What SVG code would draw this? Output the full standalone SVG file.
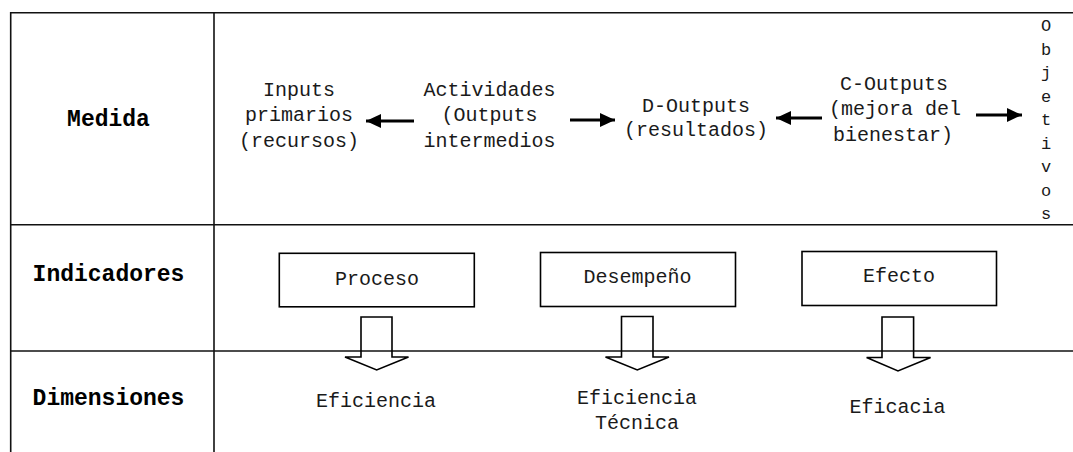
<svg xmlns="http://www.w3.org/2000/svg" width="1073" height="452" viewBox="0 0 1073 452">
<style>
  .grid { stroke: #111; stroke-width: 1.6; fill: none; }
  .lbl { font-family: "Liberation Mono", "Courier New", monospace; font-weight: bold; font-size: 23px; fill: #000; text-anchor: middle; }
  .txt { font-family: "Liberation Mono", "Courier New", monospace; font-size: 20px; fill: #1a1a1a; text-anchor: middle; }
  .vtxt { font-family: "Liberation Mono", "Courier New", monospace; font-size: 17px; fill: #1a1a1a; text-anchor: middle; }
  .box { fill: #fff; stroke: #000; stroke-width: 1.6; }
  .barrow { fill: none; stroke: #000; stroke-width: 1.6; stroke-linejoin: miter; }
  .conn { stroke: #000; stroke-width: 2.8; fill: none; }
</style>
<defs>
  <marker id="ah" markerUnits="userSpaceOnUse" markerWidth="16" markerHeight="14" refX="15" refY="7" orient="auto">
    <path d="M0,0 L15,7 L0,14 Z" fill="#000"/>
  </marker>
</defs>
<rect width="1073" height="452" fill="#fff"/>

<g id="table">
  <line class="grid" x1="10" y1="12.7" x2="1073" y2="12.7" stroke-width="2"/>
  <line class="grid" x1="10.7" y1="12" x2="10.7" y2="452"/>
  <line class="grid" x1="214" y1="12" x2="214" y2="452"/>
  <line class="grid" x1="10" y1="224.7" x2="1073" y2="224.7"/>
  <line class="grid" x1="10" y1="351" x2="1073" y2="351"/>
</g>

<g id="row-labels">
  <text class="lbl" x="108.5" y="126">Medida</text>
  <text class="lbl" x="108.5" y="281">Indicadores</text>
  <text class="lbl" x="108.5" y="405">Dimensiones</text>
</g>

<g id="inputs">
  <text class="txt" x="299" y="95.5">Inputs</text>
  <text class="txt" x="299" y="121">primarios</text>
  <text class="txt" x="299" y="146.5">(recursos)</text>
</g>
<g id="actividades">
  <text class="txt" x="489.5" y="95.5">Actividades</text>
  <text class="txt" x="489.5" y="121">(Outputs</text>
  <text class="txt" x="489.5" y="146.5">intermedios</text>
</g>
<g id="d-outputs">
  <text class="txt" x="696" y="112">D-Outputs</text>
  <text class="txt" x="696" y="136">(resultados)</text>
</g>
<g id="c-outputs">
  <text class="txt" x="894" y="90">C-Outputs</text>
  <text class="txt" x="895" y="115">(mejora del</text>
  <text class="txt" x="893" y="141">bienestar)</text>
</g>
<g id="objetivos">
  <text class="vtxt" x="1046" y="31">O</text>
  <text class="vtxt" x="1046" y="54.5">b</text>
  <text class="vtxt" x="1046" y="78">j</text>
  <text class="vtxt" x="1046" y="101.5">e</text>
  <text class="vtxt" x="1046" y="125">t</text>
  <text class="vtxt" x="1046" y="148.5">i</text>
  <text class="vtxt" x="1046" y="172">v</text>
  <text class="vtxt" x="1046" y="195.5">o</text>
  <text class="vtxt" x="1046" y="219">s</text>
</g>

<g id="proceso">
  <rect class="box" x="279.3" y="253.3" width="195" height="53.5"/>
  <text class="txt" x="377" y="285">Proceso</text>
</g>
<g id="desempeno">
  <rect class="box" x="540.5" y="252.5" width="195" height="54"/>
  <text class="txt" x="637.5" y="283">Desempeño</text>
</g>
<g id="efecto">
  <rect class="box" x="802" y="251.5" width="194.5" height="54"/>
  <text class="txt" x="899" y="282">Efecto</text>
</g>

<g id="eficiencia">
  <text class="txt" x="376" y="406.5">Eficiencia</text>
</g>
<g id="eficiencia-tecnica">
  <text class="txt" x="637" y="404">Eficiencia</text>
  <text class="txt" x="637" y="429">Técnica</text>
</g>
<g id="eficacia">
  <text class="txt" x="897.5" y="413">Eficacia</text>
</g>

<g id="connectors">
  <line class="conn" x1="414" y1="121" x2="366" y2="121" marker-end="url(#ah)"/>
  <line class="conn" x1="570" y1="120" x2="615" y2="120" marker-end="url(#ah)"/>
  <line class="conn" x1="822" y1="118" x2="776" y2="118" marker-end="url(#ah)"/>
  <line class="conn" x1="976" y1="115" x2="1022" y2="115" marker-end="url(#ah)"/>
  <path class="barrow" d="M361,317 H392 V357 H408.5 L376.7,370 L345,357 H361 Z"/>
  <path class="barrow" d="M621.5,316.5 H653 V357 H669 L637.3,370 L605.5,357 H621.5 Z"/>
  <path class="barrow" d="M882,317 H913.6 V357.5 H930.6 L898,371 L866.6,357.5 H882 Z"/>
</g>
</svg>
